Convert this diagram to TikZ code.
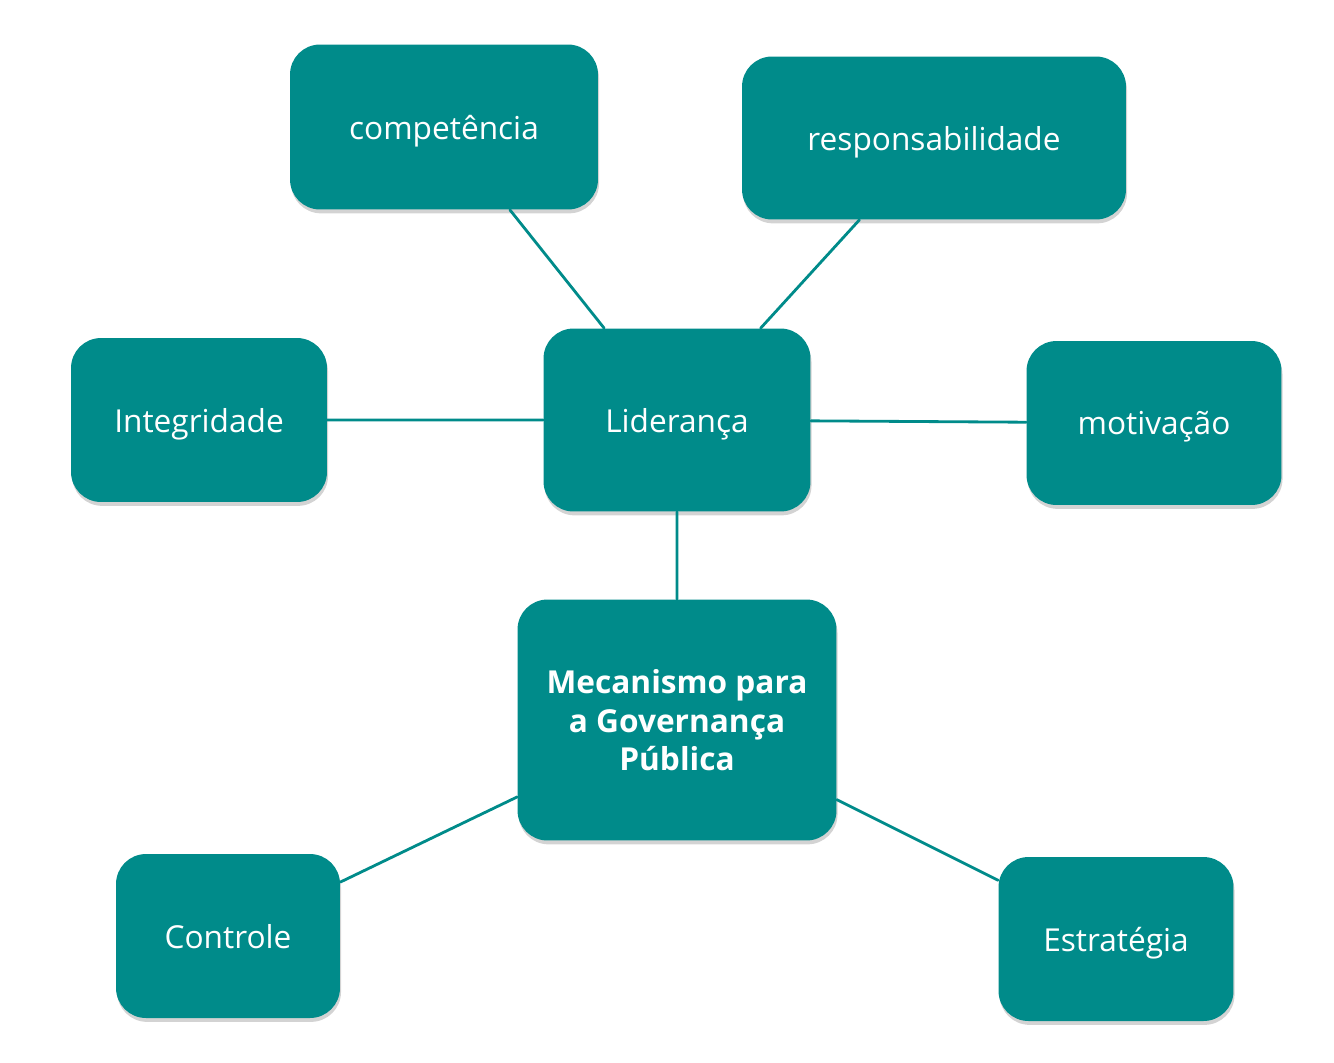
\documentclass[tikz,border=0pt]{standalone}
\usepackage{fontspec}
\setmainfont{Open Sans}
\usetikzlibrary{shadows}
\definecolor{verde}{HTML}{008B8A}
\tikzset{caixa/.style={rectangle,rounded corners=0.6cm,fill=verde,text=white,font=\fontsize{18}{22}\selectfont,align=center,inner sep=0pt,
  text depth=0pt,drop shadow={shadow xshift=0.6pt,shadow yshift=-2.2pt,opacity=0.35}},
  liga/.style={draw=verde,line width=1.6pt}}
\begin{document}
\begin{tikzpicture}[x=0.02cm,y=-0.02cm,line cap=round,line join=round]
\useasboundingbox (0,0) rectangle (1334,1062);
\node[caixa,minimum width=6.16cm,minimum height=3.3cm] (comp) at (444,127){competência};
\node[caixa,minimum width=7.68cm,minimum height=3.26cm] (resp) at (934,138){responsabilidade};
\node[caixa,minimum width=5.12cm,minimum height=3.28cm] (integ) at (199,420){Integridade};
\node[caixa,minimum width=5.34cm,minimum height=3.66cm] (lid) at (677,420){Liderança};
\node[caixa,minimum width=5.1cm,minimum height=3.28cm] (motiv) at (1154,423){motivação};
\node[caixa,minimum width=6.38cm,minimum height=4.82cm,font=\fontsize{18}{22}\selectfont\bfseries] (mec) at (677,720){Mecanismo para\\a Governança\\Pública};
\node[caixa,minimum width=4.48cm,minimum height=3.28cm] (contr) at (228,936){Controle};
\node[caixa,minimum width=4.7cm,minimum height=3.28cm] (estr) at (1116,939){Estratégia};
\draw[liga] (comp)--(lid) (resp)--(lid) (integ)--(lid) (lid)--(motiv);
\draw[liga] (lid)--(mec) (mec)--(contr) (mec)--(estr);
\end{tikzpicture}
\end{document}
